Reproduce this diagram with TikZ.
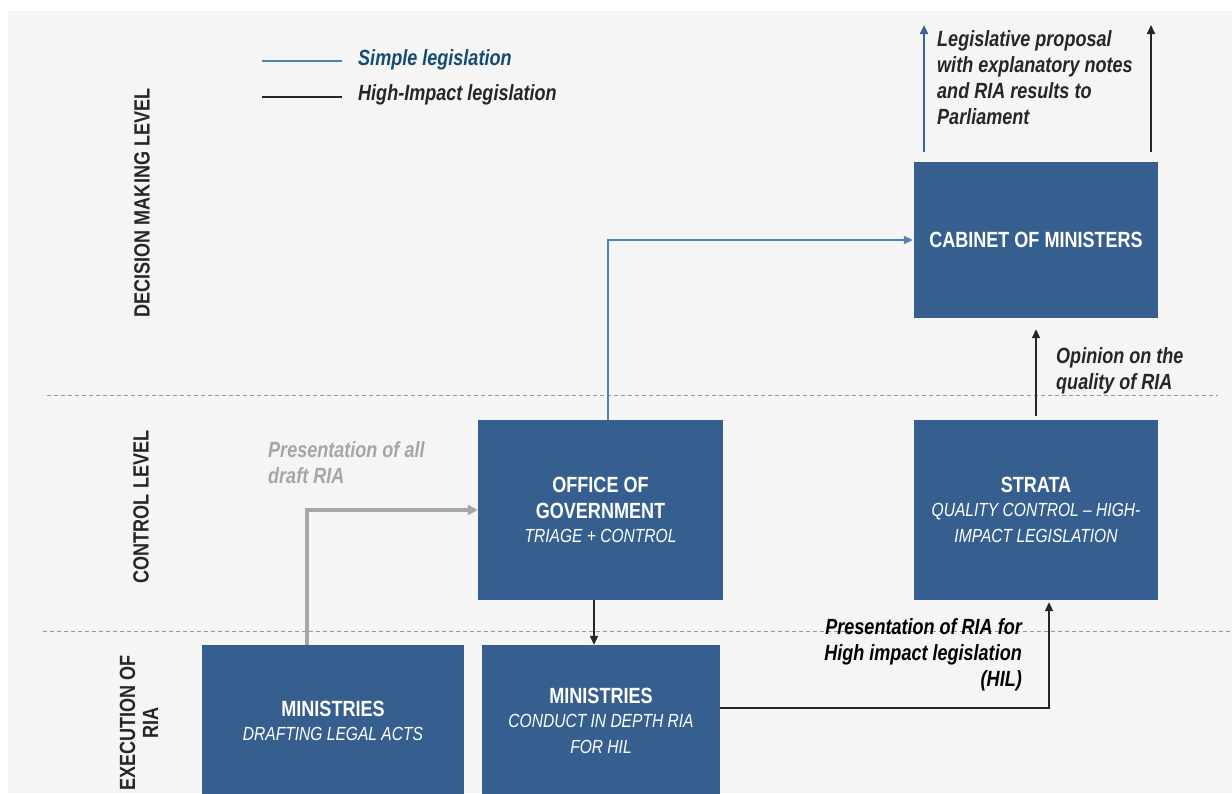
\documentclass[tikz,border=0pt]{standalone}
\usepackage{fontspec}
\setmainfont{Liberation Sans}[FakeStretch=0.82]
\usetikzlibrary{arrows.meta}
\definecolor{panel}{RGB}{245,245,245}
\definecolor{boxblue}{RGB}{54,95,143}
\definecolor{lineblue}{RGB}{79,129,189}
\definecolor{upblue}{RGB}{58,99,148}
\definecolor{legblue}{RGB}{20,75,115}
\definecolor{darktxt}{RGB}{38,38,38}
\definecolor{graytxt}{RGB}{166,166,166}
\definecolor{dashgray}{RGB}{150,150,150}
\begin{document}
\begin{tikzpicture}[x=1pt,y=-1pt,
  box/.style={fill=boxblue,draw=none,text=white,align=center,inner sep=0pt,
    font=\fontsize{22}{26}\selectfont},
  lbl/.style={font=\fontsize{22}{26}\selectfont\bfseries\itshape,inner sep=0pt},
  level/.style={rotate=90,font=\fontsize{22}{23}\selectfont\bfseries,text=darktxt,align=center,inner sep=0pt},
  tipA/.style={-{Triangle[length=9pt,width=8pt]}},
  bluecon/.style={tipA,draw=lineblue,line width=2pt},
  upbluecon/.style={tipA,draw=upblue,line width=2.2pt},
  blackcon/.style={tipA,draw=darktxt,line width=2pt},
  graycon/.style={-{Triangle[length=10pt,width=10pt]},draw=graytxt,line width=3.5pt},
  sep/.style={draw=dashgray,line width=1pt,dash pattern=on 4pt off 3pt}
]
\useasboundingbox (0,0) rectangle (1232,793);
\fill[panel] (8,11) rectangle (1232,793);

% separators
\coordinate (s1a) at (47,395);
\coordinate (s1b) at (1218,395);
\coordinate (s2a) at (43,631);
\coordinate (s2b) at (1232,631);
\draw[sep] (s1a) -- (s1b);
\draw[sep] (s2a) -- (s2b);

% legend
\coordinate (lg1a) at (262,61);
\coordinate (lg1b) at (342,61);
\coordinate (lg2a) at (262,97);
\coordinate (lg2b) at (342,97);
\draw[draw=lineblue,line width=2.2pt] (lg1a) -- (lg1b);
\draw[draw=darktxt,line width=2.2pt] (lg2a) -- (lg2b);
\node[lbl,anchor=base west,text=legblue] (lgsimple) at (358,65) {Simple legislation};
\node[lbl,anchor=base west,text=darktxt] (lghigh) at (358,100.5) {High-Impact legislation};

% level labels
\node[level] (lvl1) at (142,203) {DECISION MAKING LEVEL};
\node[level] (lvl2) at (141,507) {CONTROL LEVEL};
\node[level] (lvl3) at (139,723) {EXECUTION OF\\RIA};

% boxes
\node[box,minimum width=244,minimum height=156] (cabinet) at (1036,240)
  {\bfseries CABINET OF MINISTERS};
\node[box,minimum width=244,minimum height=180] (strata) at (1036,510)
  {\bfseries STRATA\\[-2pt]
   \fontsize{19}{24}\selectfont\itshape QUALITY CONTROL – HIGH-\\
   \fontsize{19}{24}\selectfont\itshape IMPACT LEGISLATION};
\node[box,minimum width=245,minimum height=180] (office) at (600.5,510)
  {\bfseries OFFICE OF\\
   \bfseries GOVERNMENT\\[-2pt]
   \fontsize{19}{24}\selectfont\itshape TRIAGE + CONTROL};
\node[box,minimum width=262,minimum height=152] (min1) at (333,721)
  {\bfseries MINISTRIES\\[-2pt]
   \fontsize{19}{24}\selectfont\itshape DRAFTING LEGAL ACTS};
\node[box,minimum width=238,minimum height=152] (min2) at (601,721)
  {\bfseries MINISTRIES\\[-2pt]
   \fontsize{19}{24}\selectfont\itshape CONDUCT IN DEPTH RIA\\
   \fontsize{19}{24}\selectfont\itshape FOR HIL};

% labels
\node[lbl,anchor=north west,align=left,text=darktxt] (lblparl) at (937,30)
  {Legislative proposal\\with explanatory notes\\and RIA results to\\Parliament};
\node[lbl,anchor=north west,align=left,text=graytxt] (lbldraft) at (268,441)
  {Presentation of all\\draft RIA};
\node[lbl,anchor=north west,align=left,text=darktxt] (lblopinion) at (1056,347)
  {Opinion on the\\quality of RIA};
\node[lbl,anchor=north east,align=right,text=black] (lblhil) at (1022,618)
  {Presentation of RIA for\\High impact legislation\\(HIL)};

% connectors
\coordinate (topL) at (924,25);
\coordinate (topR) at (1151,25);
\draw[upbluecon] ([xshift=-112pt,yshift=10pt]cabinet.north) -- (topL);
\draw[blackcon] ([xshift=115pt,yshift=10pt]cabinet.north) -- (topR);
\draw[bluecon] ([xshift=7.5pt]office.north) |- ([xshift=-1pt]cabinet.west);
\draw[blackcon] ([yshift=4pt]strata.north) -- ([yshift=-11pt]cabinet.south);
\draw[blackcon] ([xshift=-6.5pt]office.south) -- ([xshift=-6.5pt]office.south |- min2.north);
\draw[graycon] ([xshift=-26pt]min1.north) |- (office.west);
\draw[blackcon] ([yshift=13pt]min2.east) -| ([xshift=13pt,yshift=-2pt]strata.south);
\end{tikzpicture}
\end{document}
